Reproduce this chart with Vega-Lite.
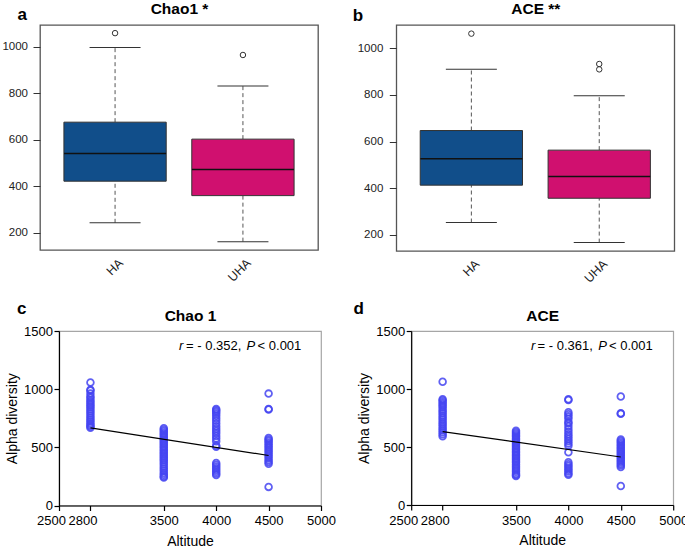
{
"$schema": "https://vega.github.io/schema/vega-lite/v6.json",
"padding": {"left": 0, "top": 0, "right": 0, "bottom": 0},
"background": "white",
"config": {"font": "Liberation Sans", "axis": {"grid": false}, "title": {"color": "black"}},
"datasets": {
"box": [
{"metric":"Chao1","group":"HA","lower":242,"q1":421,"median":540,"q3":675,"upper":996},
{"metric":"Chao1","group":"UHA","lower":161,"q1":359,"median":471,"q3":602,"upper":831},
{"metric":"ACE","group":"HA","lower":253,"q1":413,"median":526,"q3":647,"upper":910},
{"metric":"ACE","group":"UHA","lower":167,"q1":357,"median":450,"q3":563,"upper":796}
],
"outliers": [
{"metric":"Chao1","group":"HA","value":1058},
{"metric":"Chao1","group":"UHA","value":964},
{"metric":"ACE","group":"HA","value":1062},
{"metric":"ACE","group":"UHA","value":932},
{"metric":"ACE","group":"UHA","value":909}
],
"fit": [
{"metric":"Chao1","altitude":2800,"value":668},
{"metric":"Chao1","altitude":4500,"value":430},
{"metric":"ACE","altitude":2800,"value":633},
{"metric":"ACE","altitude":4500,"value":414}
],
"annot": [
{"metric":"Chao1","altitude":3646,"value":1333,"text":"r"},
{"metric":"Chao1","altitude":3713,"value":1333,"text":"= - 0.352,"},
{"metric":"Chao1","altitude":4290,"value":1333,"text":"P"},
{"metric":"Chao1","altitude":4395,"value":1333,"text":"< 0.001"},
{"metric":"ACE","altitude":3642,"value":1332,"text":"r"},
{"metric":"ACE","altitude":3706,"value":1332,"text":"= - 0.361,"},
{"metric":"ACE","altitude":4286,"value":1332,"text":"P"},
{"metric":"ACE","altitude":4388,"value":1332,"text":"< 0.001"}
],
"scatter": [
{"metric":"Chao1","altitude":2800,"value":1057},{"metric":"Chao1","altitude":2800,"value":995},{"metric":"Chao1","altitude":2800,"value":988},{"metric":"Chao1","altitude":2800,"value":962},{"metric":"Chao1","altitude":2800,"value":940},{"metric":"Chao1","altitude":2800,"value":925},{"metric":"Chao1","altitude":2800,"value":905},{"metric":"Chao1","altitude":2800,"value":890},{"metric":"Chao1","altitude":2800,"value":872},{"metric":"Chao1","altitude":2800,"value":858},{"metric":"Chao1","altitude":2800,"value":842},{"metric":"Chao1","altitude":2800,"value":825},{"metric":"Chao1","altitude":2800,"value":808},{"metric":"Chao1","altitude":2800,"value":790},{"metric":"Chao1","altitude":2800,"value":772},{"metric":"Chao1","altitude":2800,"value":755},{"metric":"Chao1","altitude":2800,"value":738},{"metric":"Chao1","altitude":2800,"value":722},{"metric":"Chao1","altitude":2800,"value":705},{"metric":"Chao1","altitude":2800,"value":692},{"metric":"Chao1","altitude":2800,"value":680},{"metric":"Chao1","altitude":2800,"value":668},
{"metric":"Chao1","altitude":3500,"value":665},{"metric":"Chao1","altitude":3500,"value":652},{"metric":"Chao1","altitude":3500,"value":638},{"metric":"Chao1","altitude":3500,"value":624},{"metric":"Chao1","altitude":3500,"value":610},{"metric":"Chao1","altitude":3500,"value":596},{"metric":"Chao1","altitude":3500,"value":582},{"metric":"Chao1","altitude":3500,"value":568},{"metric":"Chao1","altitude":3500,"value":554},{"metric":"Chao1","altitude":3500,"value":540},{"metric":"Chao1","altitude":3500,"value":526},{"metric":"Chao1","altitude":3500,"value":512},{"metric":"Chao1","altitude":3500,"value":498},{"metric":"Chao1","altitude":3500,"value":484},{"metric":"Chao1","altitude":3500,"value":470},{"metric":"Chao1","altitude":3500,"value":456},{"metric":"Chao1","altitude":3500,"value":442},{"metric":"Chao1","altitude":3500,"value":428},{"metric":"Chao1","altitude":3500,"value":414},{"metric":"Chao1","altitude":3500,"value":400},{"metric":"Chao1","altitude":3500,"value":386},{"metric":"Chao1","altitude":3500,"value":370},{"metric":"Chao1","altitude":3500,"value":352},{"metric":"Chao1","altitude":3500,"value":334},{"metric":"Chao1","altitude":3500,"value":316},{"metric":"Chao1","altitude":3500,"value":298},{"metric":"Chao1","altitude":3500,"value":280},{"metric":"Chao1","altitude":3500,"value":264},{"metric":"Chao1","altitude":3500,"value":250},{"metric":"Chao1","altitude":3500,"value":240},
{"metric":"Chao1","altitude":4000,"value":830},{"metric":"Chao1","altitude":4000,"value":818},{"metric":"Chao1","altitude":4000,"value":805},{"metric":"Chao1","altitude":4000,"value":790},{"metric":"Chao1","altitude":4000,"value":772},{"metric":"Chao1","altitude":4000,"value":750},{"metric":"Chao1","altitude":4000,"value":728},{"metric":"Chao1","altitude":4000,"value":705},{"metric":"Chao1","altitude":4000,"value":682},{"metric":"Chao1","altitude":4000,"value":660},{"metric":"Chao1","altitude":4000,"value":640},{"metric":"Chao1","altitude":4000,"value":620},{"metric":"Chao1","altitude":4000,"value":598},{"metric":"Chao1","altitude":4000,"value":575},{"metric":"Chao1","altitude":4000,"value":552},{"metric":"Chao1","altitude":4000,"value":515},{"metric":"Chao1","altitude":4000,"value":505},{"metric":"Chao1","altitude":4000,"value":365},{"metric":"Chao1","altitude":4000,"value":350},{"metric":"Chao1","altitude":4000,"value":336},{"metric":"Chao1","altitude":4000,"value":320},{"metric":"Chao1","altitude":4000,"value":305},{"metric":"Chao1","altitude":4000,"value":290},{"metric":"Chao1","altitude":4000,"value":275},{"metric":"Chao1","altitude":4000,"value":262},
{"metric":"Chao1","altitude":4500,"value":962},{"metric":"Chao1","altitude":4500,"value":830},{"metric":"Chao1","altitude":4500,"value":826},{"metric":"Chao1","altitude":4500,"value":580},{"metric":"Chao1","altitude":4500,"value":568},{"metric":"Chao1","altitude":4500,"value":555},{"metric":"Chao1","altitude":4500,"value":540},{"metric":"Chao1","altitude":4500,"value":525},{"metric":"Chao1","altitude":4500,"value":510},{"metric":"Chao1","altitude":4500,"value":495},{"metric":"Chao1","altitude":4500,"value":478},{"metric":"Chao1","altitude":4500,"value":462},{"metric":"Chao1","altitude":4500,"value":445},{"metric":"Chao1","altitude":4500,"value":428},{"metric":"Chao1","altitude":4500,"value":410},{"metric":"Chao1","altitude":4500,"value":392},{"metric":"Chao1","altitude":4500,"value":375},{"metric":"Chao1","altitude":4500,"value":358},{"metric":"Chao1","altitude":4500,"value":160},
{"metric":"ACE","altitude":2800,"value":1062},{"metric":"ACE","altitude":2800,"value":912},{"metric":"ACE","altitude":2800,"value":900},{"metric":"ACE","altitude":2800,"value":885},{"metric":"ACE","altitude":2800,"value":870},{"metric":"ACE","altitude":2800,"value":855},{"metric":"ACE","altitude":2800,"value":840},{"metric":"ACE","altitude":2800,"value":822},{"metric":"ACE","altitude":2800,"value":805},{"metric":"ACE","altitude":2800,"value":788},{"metric":"ACE","altitude":2800,"value":770},{"metric":"ACE","altitude":2800,"value":752},{"metric":"ACE","altitude":2800,"value":735},{"metric":"ACE","altitude":2800,"value":716},{"metric":"ACE","altitude":2800,"value":698},{"metric":"ACE","altitude":2800,"value":680},{"metric":"ACE","altitude":2800,"value":662},{"metric":"ACE","altitude":2800,"value":645},{"metric":"ACE","altitude":2800,"value":628},{"metric":"ACE","altitude":2800,"value":610},{"metric":"ACE","altitude":2800,"value":592},
{"metric":"ACE","altitude":3500,"value":640},{"metric":"ACE","altitude":3500,"value":628},{"metric":"ACE","altitude":3500,"value":615},{"metric":"ACE","altitude":3500,"value":602},{"metric":"ACE","altitude":3500,"value":590},{"metric":"ACE","altitude":3500,"value":576},{"metric":"ACE","altitude":3500,"value":562},{"metric":"ACE","altitude":3500,"value":548},{"metric":"ACE","altitude":3500,"value":534},{"metric":"ACE","altitude":3500,"value":520},{"metric":"ACE","altitude":3500,"value":506},{"metric":"ACE","altitude":3500,"value":492},{"metric":"ACE","altitude":3500,"value":478},{"metric":"ACE","altitude":3500,"value":464},{"metric":"ACE","altitude":3500,"value":450},{"metric":"ACE","altitude":3500,"value":436},{"metric":"ACE","altitude":3500,"value":422},{"metric":"ACE","altitude":3500,"value":408},{"metric":"ACE","altitude":3500,"value":394},{"metric":"ACE","altitude":3500,"value":380},{"metric":"ACE","altitude":3500,"value":366},{"metric":"ACE","altitude":3500,"value":350},{"metric":"ACE","altitude":3500,"value":334},{"metric":"ACE","altitude":3500,"value":318},{"metric":"ACE","altitude":3500,"value":302},{"metric":"ACE","altitude":3500,"value":286},{"metric":"ACE","altitude":3500,"value":270},{"metric":"ACE","altitude":3500,"value":258},{"metric":"ACE","altitude":3500,"value":250},
{"metric":"ACE","altitude":4000,"value":912},{"metric":"ACE","altitude":4000,"value":906},{"metric":"ACE","altitude":4000,"value":800},{"metric":"ACE","altitude":4000,"value":782},{"metric":"ACE","altitude":4000,"value":764},{"metric":"ACE","altitude":4000,"value":744},{"metric":"ACE","altitude":4000,"value":715},{"metric":"ACE","altitude":4000,"value":705},{"metric":"ACE","altitude":4000,"value":680},{"metric":"ACE","altitude":4000,"value":655},{"metric":"ACE","altitude":4000,"value":632},{"metric":"ACE","altitude":4000,"value":610},{"metric":"ACE","altitude":4000,"value":590},{"metric":"ACE","altitude":4000,"value":570},{"metric":"ACE","altitude":4000,"value":550},{"metric":"ACE","altitude":4000,"value":530},{"metric":"ACE","altitude":4000,"value":510},{"metric":"ACE","altitude":4000,"value":455},{"metric":"ACE","altitude":4000,"value":368},{"metric":"ACE","altitude":4000,"value":352},{"metric":"ACE","altitude":4000,"value":336},{"metric":"ACE","altitude":4000,"value":320},{"metric":"ACE","altitude":4000,"value":304},{"metric":"ACE","altitude":4000,"value":288},{"metric":"ACE","altitude":4000,"value":272},{"metric":"ACE","altitude":4000,"value":260},
{"metric":"ACE","altitude":4500,"value":935},{"metric":"ACE","altitude":4500,"value":790},{"metric":"ACE","altitude":4500,"value":786},{"metric":"ACE","altitude":4500,"value":565},{"metric":"ACE","altitude":4500,"value":552},{"metric":"ACE","altitude":4500,"value":538},{"metric":"ACE","altitude":4500,"value":524},{"metric":"ACE","altitude":4500,"value":510},{"metric":"ACE","altitude":4500,"value":496},{"metric":"ACE","altitude":4500,"value":482},{"metric":"ACE","altitude":4500,"value":468},{"metric":"ACE","altitude":4500,"value":454},{"metric":"ACE","altitude":4500,"value":440},{"metric":"ACE","altitude":4500,"value":426},{"metric":"ACE","altitude":4500,"value":412},{"metric":"ACE","altitude":4500,"value":398},{"metric":"ACE","altitude":4500,"value":384},{"metric":"ACE","altitude":4500,"value":370},{"metric":"ACE","altitude":4500,"value":356},{"metric":"ACE","altitude":4500,"value":342},{"metric":"ACE","altitude":4500,"value":328},{"metric":"ACE","altitude":4500,"value":164}
]
},
"spacing": 13,
"vconcat": [
{"spacing": 0, "hconcat": [
 {"width": 1, "height": 1, "data": {"values": []}, "mark": {"type": "point", "size": 0, "opacity": 0}, "view": {"stroke": null}},
 {"spacing": 32.3, "hconcat": [
 {
  "width": 278, "height": 225,
  "view": {"stroke": "#555555", "strokeWidth": 1.3},
  "resolve": {"axis": {"x": "independent"}},
  "layer": [
   {"data": {"name": "box"}, "transform": [{"filter": "datum.metric === 'Chao1'"}],
    "layer": [
     {"mark": {"type": "rule", "color": "#555555", "strokeDash": [4, 3]},
      "encoding": {"x": {"field": "group", "type": "nominal"}, "y": {"field": "q3", "type": "quantitative", "scale": {"domain": [125, 1093], "nice": false, "zero": false}}, "y2": {"field": "upper"}}},
     {"mark": {"type": "rule", "color": "#555555", "strokeDash": [4, 3]},
      "encoding": {"x": {"field": "group", "type": "nominal"}, "y": {"field": "lower", "type": "quantitative", "scale": {"domain": [125, 1093], "nice": false, "zero": false}}, "y2": {"field": "q1"}}},
     {"mark": {"type": "tick", "size": 51, "thickness": 1, "color": "#333333", "opacity": 1},
      "encoding": {"x": {"field": "group", "type": "nominal"}, "y": {"field": "upper", "type": "quantitative", "scale": {"domain": [125, 1093], "nice": false, "zero": false}}}},
     {"mark": {"type": "tick", "size": 51, "thickness": 1, "color": "#333333", "opacity": 1},
      "encoding": {"x": {"field": "group", "type": "nominal"}, "y": {"field": "lower", "type": "quantitative", "scale": {"domain": [125, 1093], "nice": false, "zero": false}}}},
     {"mark": {"type": "bar", "stroke": "#333333", "strokeWidth": 1},
      "encoding": {
       "x": {"field": "group", "type": "nominal", "scale": {"domain": ["HA", "UHA"], "paddingInner": 0.2, "paddingOuter": 0.187},
             "axis": {"title": null, "domain": false, "ticks": false, "tickSize": 0, "labelAngle": -45, "labelAlign": "right", "labelBaseline": "middle", "labelPadding": 10.5, "labelOffset": 6, "labelFontSize": 12.5, "labelColor": "#222222"}},
       "y": {"field": "q1", "type": "quantitative", "scale": {"domain": [125, 1093], "nice": false, "zero": false},
             "axis": {"title": "a", "titleAngle": 0, "titleAlign": "left", "titleBaseline": "alphabetic", "titleX": -23, "titleY": -6, "titleFontSize": 17, "titleFontWeight": "bold", "titleColor": "black", "format": "d", "domain": false, "values": [200, 400, 600, 800, 1000], "tickSize": 7, "tickColor": "#333333", "labelFontSize": 11.5, "labelPadding": 5.5, "labelColor": "#222222"}},
       "y2": {"field": "q3"},
       "color": {"field": "group", "type": "nominal", "scale": {"domain": ["HA", "UHA"], "range": ["#114E8A", "#D0106F"]}, "legend": null}}},
     {"mark": {"type": "tick", "size": 102, "thickness": 1.5, "color": "#111111", "opacity": 1},
      "encoding": {"x": {"field": "group", "type": "nominal"}, "y": {"field": "median", "type": "quantitative", "scale": {"domain": [125, 1093], "nice": false, "zero": false}}}}
    ]},
   {"data": {"name": "outliers"}, "transform": [{"filter": "datum.metric === 'Chao1'"}],
    "mark": {"type": "point", "filled": false, "color": "#333333", "size": 30, "strokeWidth": 1, "opacity": 1},
    "encoding": {
     "x": {"field": "group", "type": "nominal", "axis": {"orient": "top", "labels": false, "ticks": false, "domain": false, "title": "Chao1 *", "titleX": 139, "titleY": -17, "titleAlign": "center", "titleBaseline": "middle", "titleFontSize": 15.5, "titleFontWeight": "bold", "titleColor": "black"}},
     "y": {"field": "value", "type": "quantitative", "scale": {"domain": [125, 1093], "nice": false, "zero": false}}}}
  ]
 },
 {
  "width": 278, "height": 226,
  "view": {"stroke": "#555555", "strokeWidth": 1.3},
  "resolve": {"axis": {"x": "independent"}},
  "layer": [
   {"data": {"name": "box"}, "transform": [{"filter": "datum.metric === 'ACE'"}],
    "layer": [
     {"mark": {"type": "rule", "color": "#555555", "strokeDash": [4, 3]},
      "encoding": {"x": {"field": "group", "type": "nominal"}, "y": {"field": "q3", "type": "quantitative", "scale": {"domain": [131, 1099], "nice": false, "zero": false}}, "y2": {"field": "upper"}}},
     {"mark": {"type": "rule", "color": "#555555", "strokeDash": [4, 3]},
      "encoding": {"x": {"field": "group", "type": "nominal"}, "y": {"field": "lower", "type": "quantitative", "scale": {"domain": [131, 1099], "nice": false, "zero": false}}, "y2": {"field": "q1"}}},
     {"mark": {"type": "tick", "size": 51, "thickness": 1, "color": "#333333", "opacity": 1},
      "encoding": {"x": {"field": "group", "type": "nominal"}, "y": {"field": "upper", "type": "quantitative", "scale": {"domain": [131, 1099], "nice": false, "zero": false}}}},
     {"mark": {"type": "tick", "size": 51, "thickness": 1, "color": "#333333", "opacity": 1},
      "encoding": {"x": {"field": "group", "type": "nominal"}, "y": {"field": "lower", "type": "quantitative", "scale": {"domain": [131, 1099], "nice": false, "zero": false}}}},
     {"mark": {"type": "bar", "stroke": "#333333", "strokeWidth": 1},
      "encoding": {
       "x": {"field": "group", "type": "nominal", "scale": {"domain": ["HA", "UHA"], "paddingInner": 0.2, "paddingOuter": 0.187},
             "axis": {"title": null, "domain": false, "ticks": false, "tickSize": 0, "labelAngle": -45, "labelAlign": "right", "labelBaseline": "middle", "labelPadding": 10.5, "labelOffset": 6, "labelFontSize": 12.5, "labelColor": "#222222"}},
       "y": {"field": "q1", "type": "quantitative", "scale": {"domain": [131, 1099], "nice": false, "zero": false},
             "axis": {"title": "b", "titleAngle": 0, "titleAlign": "left", "titleBaseline": "alphabetic", "titleX": -44, "titleY": -5, "titleFontSize": 17, "titleFontWeight": "bold", "titleColor": "black", "format": "d", "domain": false, "values": [200, 400, 600, 800, 1000], "tickSize": 7, "tickColor": "#333333", "labelFontSize": 11.5, "labelPadding": 6.5, "labelColor": "#222222"}},
       "y2": {"field": "q3"},
       "color": {"field": "group", "type": "nominal", "scale": {"domain": ["HA", "UHA"], "range": ["#114E8A", "#D0106F"]}, "legend": null}}},
     {"mark": {"type": "tick", "size": 102, "thickness": 1.5, "color": "#111111", "opacity": 1},
      "encoding": {"x": {"field": "group", "type": "nominal"}, "y": {"field": "median", "type": "quantitative", "scale": {"domain": [131, 1099], "nice": false, "zero": false}}}}
    ]},
   {"data": {"name": "outliers"}, "transform": [{"filter": "datum.metric === 'ACE'"}],
    "mark": {"type": "point", "filled": false, "color": "#333333", "size": 30, "strokeWidth": 1, "opacity": 1},
    "encoding": {
     "x": {"field": "group", "type": "nominal", "axis": {"orient": "top", "labels": false, "ticks": false, "domain": false, "title": "ACE **", "titleX": 139, "titleY": -17, "titleAlign": "center", "titleBaseline": "middle", "titleFontSize": 15.5, "titleFontWeight": "bold", "titleColor": "black"}},
     "y": {"field": "value", "type": "quantitative", "scale": {"domain": [131, 1099], "nice": false, "zero": false}}}}
  ]
 }
 ]}
]},
{"spacing": 0, "hconcat": [
 {"width": 1, "height": 1, "data": {"values": []}, "mark": {"type": "point", "size": 0, "opacity": 0}, "view": {"stroke": null}},
 {"spacing": 15.2, "hconcat": [
 {
  "width": 262, "height": 174.5,
  "view": {"stroke": "#a6a6a6", "strokeWidth": 1.2},
  "resolve": {"axis": {"x": "independent", "y": "independent"}},
  "layer": [
   {"data": {"name": "scatter"}, "transform": [{"filter": "datum.metric === 'Chao1'"}],
    "mark": {"type": "point", "filled": false, "color": "#4545F2", "size": 45, "strokeWidth": 1.8, "opacity": 0.85},
    "encoding": {
     "x": {"field": "altitude", "type": "quantitative", "scale": {"domain": [2500, 5000], "nice": false, "zero": false},
           "axis": {"title": "Altitude", "format": "d", "values": [2500, 2800, 3500, 4000, 4500, 5000], "tickSize": 5, "tickColor": "black", "tickWidth": 1.2, "domainColor": "black", "domainWidth": 1.2, "labelFontSize": 13, "labelColor": "black", "labelPadding": 4, "labelOverlap": false, "labelFlush": false, "labelOffset": {"condition": {"test": "datum.value <= 2800", "value": -8}, "value": 0}, "titleFontSize": 14, "titleFontWeight": "normal", "titleColor": "black", "titlePadding": 6.5}},
     "y": {"field": "value", "type": "quantitative", "scale": {"domain": [0, 1500], "nice": false, "zero": false},
           "axis": {"title": "Alpha diversity", "format": "d", "values": [0, 500, 1000, 1500], "tickSize": 5, "tickColor": "black", "tickWidth": 1.2, "domainColor": "black", "domainWidth": 1.2, "labelFontSize": 13, "labelColor": "black", "labelPadding": 1.5, "titleFontSize": 14, "titleFontWeight": "normal", "titleColor": "black", "titlePadding": 4}}}},
   {"data": {"name": "fit"}, "transform": [{"filter": "datum.metric === 'Chao1'"}],
    "mark": {"type": "line", "color": "black", "strokeWidth": 1.2},
    "encoding": {
     "x": {"field": "altitude", "type": "quantitative", "scale": {"domain": [2500, 5000], "nice": false, "zero": false},
           "axis": {"orient": "top", "labels": false, "ticks": false, "domain": false, "grid": false, "title": "Chao 1", "titleX": 131, "titleY": -16, "titleAlign": "center", "titleBaseline": "middle", "titleFontSize": 15.5, "titleFontWeight": "bold", "titleColor": "black"}},
     "y": {"field": "value", "type": "quantitative", "scale": {"domain": [0, 1500], "nice": false, "zero": false},
           "axis": {"orient": "left", "offset": 57, "domainOpacity": 0, "ticks": false, "labels": false, "grid": false, "title": "c", "titleAngle": 0, "titleAlign": "left", "titleBaseline": "alphabetic", "titleX": 14.5, "titleY": -17.3, "titleFontSize": 17, "titleFontWeight": "bold", "titleColor": "black"}}}},
   {"data": {"name": "annot"}, "transform": [{"filter": "datum.metric === 'Chao1' && (datum.text === 'r' || datum.text === 'P')"}],
    "mark": {"type": "text", "align": "left", "baseline": "alphabetic", "fontSize": 13, "fontStyle": "italic", "color": "black"},
    "encoding": {
     "x": {"field": "altitude", "type": "quantitative", "scale": {"domain": [2500, 5000], "nice": false, "zero": false}, "axis": null},
     "y": {"field": "value", "type": "quantitative", "scale": {"domain": [0, 1500], "nice": false, "zero": false}, "axis": null},
     "text": {"field": "text"}}},
   {"data": {"name": "annot"}, "transform": [{"filter": "datum.metric === 'Chao1' && datum.text !== 'r' && datum.text !== 'P'"}],
    "mark": {"type": "text", "align": "left", "baseline": "alphabetic", "fontSize": 13, "color": "black"},
    "encoding": {
     "x": {"field": "altitude", "type": "quantitative", "scale": {"domain": [2500, 5000], "nice": false, "zero": false}, "axis": null},
     "y": {"field": "value", "type": "quantitative", "scale": {"domain": [0, 1500], "nice": false, "zero": false}, "axis": null},
     "text": {"field": "text"}}}
  ]
 },
 {
  "width": 262, "height": 174,
  "view": {"stroke": "#a6a6a6", "strokeWidth": 1.2},
  "resolve": {"axis": {"x": "independent", "y": "independent"}},
  "layer": [
   {"data": {"name": "scatter"}, "transform": [{"filter": "datum.metric === 'ACE'"}],
    "mark": {"type": "point", "filled": false, "color": "#4545F2", "size": 45, "strokeWidth": 1.8, "opacity": 0.85},
    "encoding": {
     "x": {"field": "altitude", "type": "quantitative", "scale": {"domain": [2500, 5000], "nice": false, "zero": false},
           "axis": {"title": "Altitude", "format": "d", "values": [2500, 2800, 3500, 4000, 4500, 5000], "tickSize": 5, "tickColor": "black", "tickWidth": 1.2, "domainColor": "black", "domainWidth": 1.2, "labelFontSize": 13, "labelColor": "black", "labelPadding": 4, "labelOverlap": false, "labelFlush": false, "labelOffset": {"condition": {"test": "datum.value <= 2800", "value": -8}, "value": 0}, "titleFontSize": 14, "titleFontWeight": "normal", "titleColor": "black", "titlePadding": 6.5}},
     "y": {"field": "value", "type": "quantitative", "scale": {"domain": [0, 1500], "nice": false, "zero": false},
           "axis": {"title": "Alpha diversity", "format": "d", "values": [0, 500, 1000, 1500], "tickSize": 5, "tickColor": "black", "tickWidth": 1.2, "domainColor": "black", "domainWidth": 1.2, "labelFontSize": 13, "labelColor": "black", "labelPadding": 1.5, "titleFontSize": 14, "titleFontWeight": "normal", "titleColor": "black", "titlePadding": 4}}}},
   {"data": {"name": "fit"}, "transform": [{"filter": "datum.metric === 'ACE'"}],
    "mark": {"type": "line", "color": "black", "strokeWidth": 1.2},
    "encoding": {
     "x": {"field": "altitude", "type": "quantitative", "scale": {"domain": [2500, 5000], "nice": false, "zero": false},
           "axis": {"orient": "top", "labels": false, "ticks": false, "domain": false, "grid": false, "title": "ACE", "titleX": 131, "titleY": -16, "titleAlign": "center", "titleBaseline": "middle", "titleFontSize": 15.5, "titleFontWeight": "bold", "titleColor": "black"}},
     "y": {"field": "value", "type": "quantitative", "scale": {"domain": [0, 1500], "nice": false, "zero": false},
           "axis": {"orient": "left", "offset": 0, "domainOpacity": 0, "ticks": false, "labels": false, "grid": false, "title": "d", "titleAngle": 0, "titleAlign": "left", "titleBaseline": "alphabetic", "titleX": -58.3, "titleY": -17.3, "titleFontSize": 17, "titleFontWeight": "bold", "titleColor": "black"}}}},
   {"data": {"name": "annot"}, "transform": [{"filter": "datum.metric === 'ACE' && (datum.text === 'r' || datum.text === 'P')"}],
    "mark": {"type": "text", "align": "left", "baseline": "alphabetic", "fontSize": 13, "fontStyle": "italic", "color": "black"},
    "encoding": {
     "x": {"field": "altitude", "type": "quantitative", "scale": {"domain": [2500, 5000], "nice": false, "zero": false}, "axis": null},
     "y": {"field": "value", "type": "quantitative", "scale": {"domain": [0, 1500], "nice": false, "zero": false}, "axis": null},
     "text": {"field": "text"}}},
   {"data": {"name": "annot"}, "transform": [{"filter": "datum.metric === 'ACE' && datum.text !== 'r' && datum.text !== 'P'"}],
    "mark": {"type": "text", "align": "left", "baseline": "alphabetic", "fontSize": 13, "color": "black"},
    "encoding": {
     "x": {"field": "altitude", "type": "quantitative", "scale": {"domain": [2500, 5000], "nice": false, "zero": false}, "axis": null},
     "y": {"field": "value", "type": "quantitative", "scale": {"domain": [0, 1500], "nice": false, "zero": false}, "axis": null},
     "text": {"field": "text"}}}
  ]
 }
 ]}
]}
]
}
